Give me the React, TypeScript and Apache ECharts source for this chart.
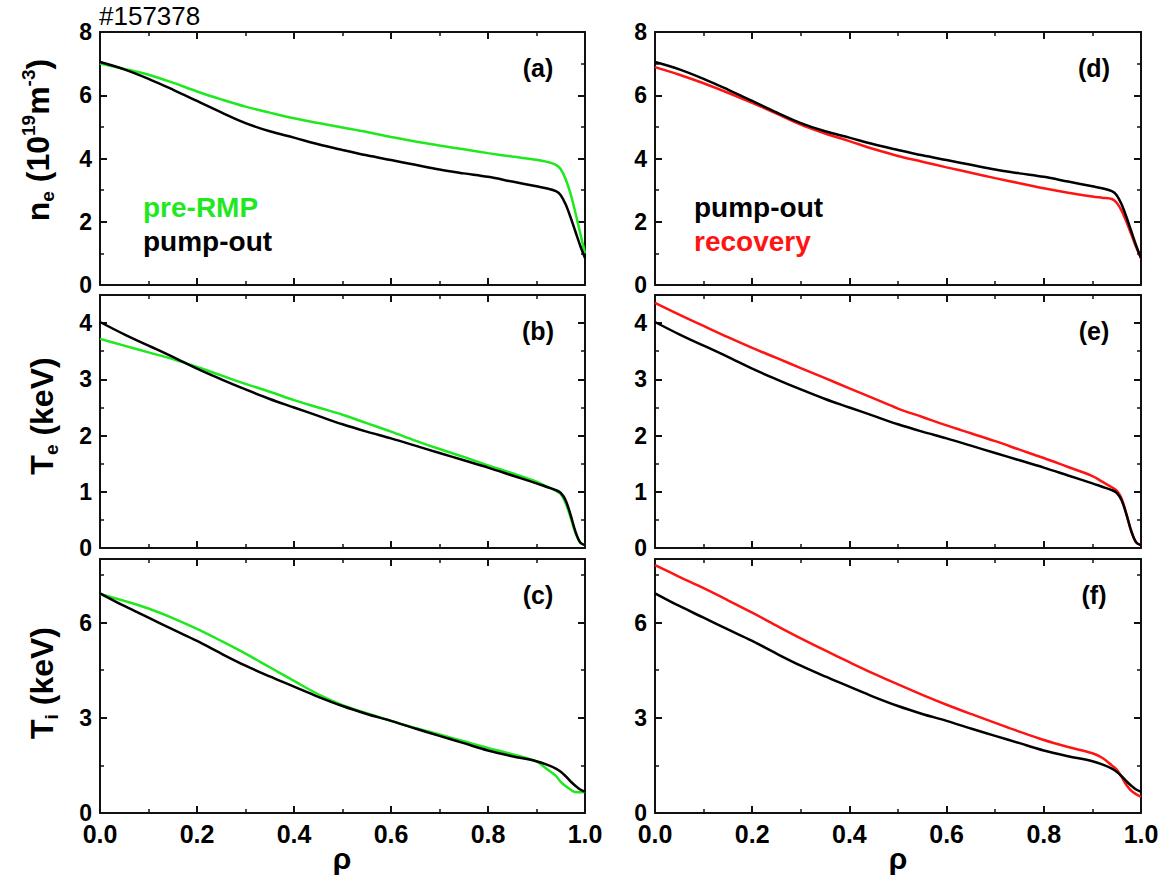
import React, { useEffect, useRef } from "react";
import * as echarts from "echarts";

// ---- data ----
const rho = [0, 0.05, 0.1, 0.15, 0.2, 0.25, 0.3, 0.35, 0.4, 0.45, 0.5, 0.55, 0.6, 0.65, 0.7, 0.75, 0.8, 0.85, 0.9, 0.92, 0.94, 0.95, 0.96, 0.97, 0.98, 0.99, 1.0];

const nePreRMP = [7.0, 6.83, 6.65, 6.4, 6.12, 5.87, 5.64, 5.45, 5.27, 5.12, 4.98, 4.84, 4.68, 4.54, 4.41, 4.29, 4.17, 4.06, 3.96, 3.9, 3.8, 3.66, 3.35, 2.9, 2.3, 1.65, 1.0];
const nePumpOut = [7.05, 6.82, 6.52, 6.18, 5.82, 5.46, 5.12, 4.86, 4.66, 4.45, 4.27, 4.1, 3.95, 3.8, 3.65, 3.53, 3.42, 3.27, 3.12, 3.06, 2.97, 2.84, 2.55, 2.15, 1.7, 1.25, 0.85];
const neRecovery = [6.89, 6.65, 6.38, 6.08, 5.76, 5.42, 5.07, 4.79, 4.55, 4.3, 4.08, 3.9, 3.72, 3.55, 3.38, 3.22, 3.06, 2.92, 2.8, 2.76, 2.72, 2.6, 2.35, 2.0, 1.6, 1.2, 0.85];

const tePreRMP = [3.72, 3.6, 3.48, 3.36, 3.22, 3.07, 2.92, 2.78, 2.63, 2.5, 2.37, 2.22, 2.07, 1.91, 1.76, 1.62, 1.47, 1.33, 1.18, 1.1, 1.02, 0.96, 0.8, 0.55, 0.28, 0.1, 0.05];
const tePumpOut = [4.02, 3.8, 3.6, 3.4, 3.19, 3.0, 2.82, 2.65, 2.5, 2.35, 2.2, 2.07, 1.95, 1.82, 1.69, 1.56, 1.43, 1.29, 1.15, 1.09, 1.03, 0.98, 0.85, 0.6, 0.3, 0.1, 0.05];
const teRecovery = [4.36, 4.15, 3.95, 3.75, 3.56, 3.38, 3.2, 3.02, 2.84, 2.66, 2.48, 2.33, 2.18, 2.04, 1.9, 1.75, 1.6, 1.44, 1.28, 1.18, 1.08, 1.02, 0.88, 0.6, 0.3, 0.1, 0.05];

const tiPreRMP = [6.9, 6.68, 6.44, 6.14, 5.8, 5.42, 5.02, 4.59, 4.16, 3.74, 3.4, 3.14, 2.9, 2.68, 2.47, 2.26, 2.05, 1.85, 1.62, 1.4, 1.17, 0.98, 0.85, 0.74, 0.66, 0.65, 0.67];
const tiPumpOut = [6.92, 6.52, 6.15, 5.78, 5.42, 5.02, 4.64, 4.3, 3.98, 3.66, 3.37, 3.12, 2.9, 2.66, 2.43, 2.2, 1.97, 1.79, 1.63, 1.53, 1.4, 1.3, 1.16, 1.0, 0.86, 0.74, 0.67];
const tiRecovery = [7.81, 7.44, 7.08, 6.7, 6.31, 5.9, 5.5, 5.12, 4.75, 4.39, 4.05, 3.72, 3.41, 3.12, 2.84, 2.56, 2.3, 2.08, 1.88, 1.74, 1.5, 1.37, 1.14, 0.88, 0.7, 0.59, 0.51];

const xTicks = { min: 0, max: 1, major: 0.2 };
const neTicks = { max: 8, major: 2, minor: 1 };
const teTicks = { max: 4.5, major: 1, minor: 0.5 };
const tiTicks = { max: 8, major: 3, minor: 1.5 };

const panelLabels = ["(a)", "(b)", "(c)", "(d)", "(e)", "(f)"];
const legendLeft = ["pre-RMP", "pump-out"];
const legendRight = ["pump-out", "recovery"];
const shotText = "#157378";

// ---- styles / layout ----
const FONT = "'Liberation Sans', Arial, sans-serif";
const GREEN = "#1ee81e";
const RED = "#ff1414";
const BLACK = "#000000";
const AXC = "#111111";

const cols = [
  { left: 100, width: 485 },
  { left: 655, width: 486 },
];
const rows = [
  { top: 32, height: 253 },
  { top: 295, height: 253 },
  { top: 559, height: 254 },
];

const pairs = (ys: number[]) => rho.map((r, i) => [r, ys[i]]);

const panels = [
  { col: 0, row: 0, ticks: neTicks, lines: [[nePreRMP, GREEN], [nePumpOut, BLACK]] },
  { col: 0, row: 1, ticks: teTicks, lines: [[tePreRMP, GREEN], [tePumpOut, BLACK]] },
  { col: 0, row: 2, ticks: tiTicks, lines: [[tiPreRMP, GREEN], [tiPumpOut, BLACK]] },
  { col: 1, row: 0, ticks: neTicks, lines: [[nePumpOut, BLACK], [neRecovery, RED]] },
  { col: 1, row: 1, ticks: teTicks, lines: [[tePumpOut, BLACK], [teRecovery, RED]] },
  { col: 1, row: 2, ticks: tiTicks, lines: [[tiPumpOut, BLACK], [tiRecovery, RED]] },
];

function buildOption() {
  const grid: any[] = [];
  const xAxis: any[] = [];
  const yAxis: any[] = [];
  const series: any[] = [];
  const graphic: any[] = [];

  panels.forEach((p, gi) => {
    const c = cols[p.col];
    const r = rows[p.row];
    grid.push({ left: c.left, top: r.top, width: c.width, height: r.height, containLabel: false });

    const mkX = (pos: string, showLabel: boolean) => ({
      type: "value",
      gridIndex: gi,
      position: pos,
      min: xTicks.min,
      max: xTicks.max,
      interval: xTicks.major,
      axisLine: { show: true, onZero: false, lineStyle: { color: AXC, width: 2 } },
      axisTick: { show: true, inside: true, length: 7, lineStyle: { color: AXC, width: 2 } },
      minorTick: { show: true, splitNumber: 2, length: 4, lineStyle: { color: AXC, width: 1.5 } },
      splitLine: { show: false },
      minorSplitLine: { show: false },
      axisLabel: {
        show: showLabel,
        margin: 8,
        fontSize: 25,
        fontWeight: "bold",
        color: "#000",
        fontFamily: FONT,
        formatter: (v: number) => v.toFixed(1),
      },
    });
    xAxis.push(mkX("bottom", p.row === 2));
    xAxis.push(mkX("top", false));

    const t = p.ticks;
    const mkY = (pos: string, major: boolean, showLabel: boolean) => ({
      type: "value",
      gridIndex: gi,
      position: pos,
      offset: 0,
      min: 0,
      max: t.max,
      interval: major ? t.major : t.minor,
      axisLine: { show: major, onZero: false, lineStyle: { color: AXC, width: 2 } },
      axisTick: { show: true, inside: true, length: major ? 7 : 4, lineStyle: { color: AXC, width: major ? 2 : 1.5 } },
      splitLine: { show: false },
      axisLabel: {
        show: showLabel,
        showMaxLabel: t.max % t.major === 0,
        margin: 8,
        fontSize: 23,
        fontWeight: "bold",
        color: "#000",
        fontFamily: FONT,
        formatter: (v: number) => String(v),
      },
    });
    const yBase = yAxis.length;
    yAxis.push(mkY("left", true, true));
    yAxis.push(mkY("left", false, false));
    yAxis.push(mkY("right", true, false));
    yAxis.push(mkY("right", false, false));

    p.lines.forEach(([ys, color]: any) => {
      series.push({
        type: "line",
        xAxisIndex: gi * 2,
        yAxisIndex: yBase,
        data: pairs(ys),
        showSymbol: false,
        symbol: "none",
        smooth: 0.35,
        lineStyle: { color, width: 2.5 },
        z: color === BLACK ? 3 : 2,
      });
    });

    graphic.push({
      type: "text",
      x: c.left + c.width - 47,
      y: r.top + 36,
      style: { text: panelLabels[gi], font: `bold 25px ${FONT}`, fill: "#000", align: "center", verticalAlign: "middle" },
    });
  });

  // shot number
  graphic.push({
    type: "text",
    x: 99,
    y: 16,
    style: { text: shotText, font: `26px ${FONT}`, fill: "#000", align: "left", verticalAlign: "middle" },
  });

  // legends
  graphic.push({ type: "text", x: 143, y: 207, style: { text: legendLeft[0], font: `bold 28px ${FONT}`, fill: GREEN, align: "left", verticalAlign: "middle" } });
  graphic.push({ type: "text", x: 143, y: 241, style: { text: legendLeft[1], font: `bold 28px ${FONT}`, fill: BLACK, align: "left", verticalAlign: "middle" } });
  graphic.push({ type: "text", x: 694, y: 207, style: { text: legendRight[0], font: `bold 28px ${FONT}`, fill: BLACK, align: "left", verticalAlign: "middle" } });
  graphic.push({ type: "text", x: 694, y: 241, style: { text: legendRight[1], font: `bold 28px ${FONT}`, fill: RED, align: "left", verticalAlign: "middle" } });

  // axis titles (rotated)
  const rich = {
    m: { fontSize: 32, fontWeight: "bold", fontFamily: FONT, fill: "#000", lineHeight: 38, verticalAlign: "middle" },
    sb: { fontSize: 19, fontWeight: "bold", fontFamily: FONT, fill: "#000", verticalAlign: "bottom", lineHeight: 20 },
    sp: { fontSize: 19, fontWeight: "bold", fontFamily: FONT, fill: "#000", verticalAlign: "top", lineHeight: 20 },
  };
  const rot = (x: number, y: number, text: string) => ({
    type: "text",
    x,
    y,
    rotation: Math.PI / 2,
    style: { text, rich, align: "center", verticalAlign: "middle" },
  });
  graphic.push(rot(38, 140, "{m|n}{sb|e}{m| (10}{sp|19}{m|m}{sp|-3}{m|)}"));
  graphic.push(rot(42, 416, "{m|T}{sb|e}{m| (keV)}"));
  graphic.push(rot(42, 683, "{m|T}{sb|i}{m| (keV)}"));

  // rho labels
  graphic.push({ type: "text", x: 342, y: 858, style: { text: "ρ", font: `bold 30px ${FONT}`, fill: "#000", align: "center", verticalAlign: "middle" } });
  graphic.push({ type: "text", x: 898, y: 858, style: { text: "ρ", font: `bold 30px ${FONT}`, fill: "#000", align: "center", verticalAlign: "middle" } });

  return {
    animation: false,
    backgroundColor: "#ffffff",
    grid,
    xAxis,
    yAxis,
    series,
    graphic,
  };
}

export default function App() {
  const ref = useRef<HTMLDivElement>(null);
  useEffect(() => {
    if (!ref.current) return;
    const chart = echarts.init(ref.current, undefined, { renderer: "svg" });
    chart.setOption(buildOption() as any);
    return () => chart.dispose();
  }, []);
  return (
    <div
      ref={ref}
      style={{ position: "absolute", left: 0, top: 0, width: 1167, height: 879, background: "#fff" }}
    />
  );
}
